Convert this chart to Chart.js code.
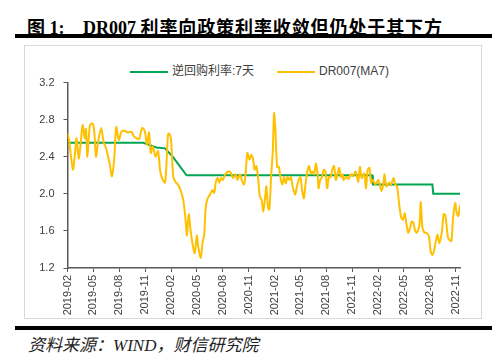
<!DOCTYPE html>
<html lang="zh">
<head>
<meta charset="UTF-8">
<title>DR007 利率向政策利率收敛</title>
<script src="https://cdn.jsdelivr.net/npm/chart.js"></script>
<style>
  body { margin: 0; width: 500px; height: 354px; background: #fff; position: relative; overflow: hidden; }
  .t { position: absolute; top: 13px; line-height: 18px; font: bold 18px "Liberation Serif", "Noto Sans CJK SC", serif; color: #000; white-space: pre; }
  .bar { position: absolute; left: 15px; width: 477px; height: 4px; background: #000; }
  #frame { position: absolute; left: 24px; top: 45px; width: 456px; height: 272px; border: 1px solid #d9d9d9; }
  #wrap { position: absolute; left: 24px; top: 45px; width: 458px; height: 274px; }
  .legLine { position: absolute; top: 71px; width: 38px; height: 2px; }
  .legText { position: absolute; top: 64px; line-height: 15px; font-size: 12px; color: #404040; font-family: "Liberation Sans", "Noto Sans CJK SC", sans-serif; }
  #src { position: absolute; left: 28px; top: 331px; line-height: 17px; font: italic 17px "Liberation Serif", "Noto Sans CJK SC", serif; color: #222; }
</style>
</head>
<body>
  <div class="t" style="left:27px">图 1:</div>
  <div class="t" style="left:83px">DR007 <span style="letter-spacing:0.9px">利率向政策利率收敛但仍处于其下方</span></div>
  <div class="bar" style="top:34px"></div>
  <div id="frame"></div>
  <div class="legLine" style="left:130px;background:#00a651"></div>
  <div class="legText" style="left:172px">逆回购利率:7天</div>
  <div class="legLine" style="left:277px;background:#ffc000"></div>
  <div class="legText" style="left:319px">DR007(MA7)</div>
  <div id="wrap"><canvas id="rateChart" width="458" height="274"></canvas></div>
  <div class="bar" style="top:326px"></div>
  <div id="src">资料来源：WIND，财信研究院</div>

<script>
// x values are months counted from 2019-02
const tickLabels = ['2019-02', '2019-05', '2019-08', '2019-11', '2020-02', '2020-05', '2020-08', '2020-11',
  '2021-02', '2021-05', '2021-08', '2021-11', '2022-02', '2022-05', '2022-08', '2022-11'];
const yTicks = [1.2, 1.6, 2.0, 2.4, 2.8, 3.2];

// 逆回购利率:7天
const repoMonth = [0, 8.8, 10.3, 11.3, 12.2, 13.8, 35.3, 35.4, 42.3, 42.4, 45.5];
const repoRate = [2.55, 2.55, 2.50, 2.49, 2.40, 2.20, 2.20, 2.10, 2.10, 2.00, 2.00];

// DR007(MA7)
const drMonth = [0, 0.2, 0.4, 0.65, 0.85, 1.05, 1.3, 1.5, 1.75, 2.0, 2.15, 2.3, 2.6, 2.9, 3.1, 3.3, 3.55, 3.9,
  4.2, 4.45, 4.7, 4.9, 5.15, 5.4, 5.65, 5.95, 6.25, 6.6, 7.0, 7.4, 7.7, 8.0, 8.3, 8.65, 8.95, 9.2, 9.45, 9.65,
  9.9, 10.2, 10.5, 10.75, 11.05, 11.3, 11.45, 11.65, 11.8, 12.0, 12.25, 12.5, 12.8, 13.1, 13.4, 13.65, 13.85,
  14.05, 14.3, 14.55, 14.75, 15.0, 15.15, 15.45, 15.65, 15.85, 16.0, 16.2, 16.5, 16.8, 17.0, 17.2, 17.4, 17.6,
  17.8, 18.0, 18.3, 18.6, 18.9, 19.2, 19.5, 19.7, 20.0, 20.2, 20.45, 20.6, 20.85, 21.1, 21.3, 21.5, 21.7, 21.9,
  22.1, 22.3, 22.5, 22.7, 22.9, 23.05, 23.25, 23.4, 23.6, 23.8, 23.95, 24.1, 24.3, 24.5, 24.7, 24.9, 25.1, 25.3,
  25.5, 25.7, 25.9, 26.1, 26.4, 26.6, 26.8, 27.0, 27.2, 27.4, 27.6, 27.8, 28.0, 28.2, 28.4, 28.6, 28.8, 29.0,
  29.1, 29.3, 29.5, 29.7, 29.9, 30.1, 30.3, 30.5, 30.7, 30.9, 31.1, 31.3, 31.5, 31.7, 31.9, 32.0, 32.3, 32.6,
  32.8, 33.1, 33.4, 33.7, 33.9, 34.1, 34.4, 34.6, 34.8, 35.0, 35.2, 35.4, 35.7, 36.0, 36.2, 36.4, 36.6, 36.75,
  36.95, 37.3, 37.5, 37.8, 38.0, 38.2, 38.5, 38.7, 38.9, 39.1, 39.3, 39.5, 39.7, 39.9, 40.1, 40.3, 40.5, 40.8,
  40.95, 41.15, 41.4, 41.6, 41.9, 42.1, 42.3, 42.5, 42.7, 42.9, 43.1, 43.4, 43.6, 43.8, 44.1, 44.3, 44.5, 44.7,
  44.95, 45.1, 45.3, 45.5];
const drRate = [2.65, 2.57, 2.40, 2.26, 2.42, 2.60, 2.38, 2.52, 2.74, 2.60, 2.70, 2.40, 2.74, 2.76, 2.68, 2.40, 2.56, 2.71,
  2.55, 2.50, 2.40, 2.32, 2.19, 2.36, 2.72, 2.58, 2.67, 2.68, 2.66, 2.67, 2.62, 2.60, 2.59, 2.71, 2.68, 2.53, 2.66, 2.44,
  2.51, 2.40, 2.46, 2.24, 2.15, 2.12, 2.28, 2.64, 2.65, 2.58, 2.19, 2.13, 2.10, 2.04, 1.94, 1.76, 1.55,
  1.78, 1.58, 1.43, 1.36, 1.55, 1.43, 1.31, 1.47, 1.56, 1.83, 1.94, 1.99, 2.04, 2.01, 2.13, 2.17, 2.12,
  2.17, 2.15, 2.21, 2.24, 2.23, 2.17, 2.21, 2.15, 2.21, 2.15, 2.10, 2.17, 2.44, 2.37, 2.42, 2.38, 2.26, 2.30,
  2.16, 1.97, 1.94, 1.81, 1.95, 2.08, 1.85, 1.83, 2.18, 2.47, 2.87, 2.69, 2.29, 2.29, 2.17, 2.10, 2.18, 2.11,
  2.18, 2.15, 2.18, 2.08, 1.99, 2.08, 2.15, 2.18, 2.04, 1.95, 2.11, 2.24, 2.30, 2.22, 2.24, 2.21, 2.33, 2.21,
  2.06, 2.15, 2.18, 2.26, 2.24, 2.06, 2.18, 2.18, 2.26, 2.30, 2.15, 2.21, 2.28, 2.18, 2.21, 2.15, 2.18, 2.16,
  2.21, 2.19, 2.24, 2.13, 2.29, 2.17, 2.22, 2.06, 2.26, 2.28, 2.12, 2.15, 2.10, 2.15, 2.10, 2.03, 2.10, 2.21,
  2.08, 2.12, 2.10, 2.17, 2.10, 2.08, 1.85, 1.74, 1.72, 1.79, 1.67, 1.58, 1.63, 1.70, 1.69, 1.60, 1.58, 1.67,
  1.91, 1.63, 1.58, 1.58, 1.54, 1.38, 1.34, 1.39, 1.49, 1.56, 1.47, 1.59, 1.78, 1.77, 1.53, 1.50, 1.49, 1.74,
  1.90, 1.80, 1.76, 1.88];

const axisColor = '#595959';
const tickFont = { family: '"Liberation Sans", sans-serif', size: 11 };

new Chart(document.getElementById('rateChart'), {
  type: 'line',
  data: {
    datasets: [
      {
        label: '逆回购利率:7天',
        data: repoMonth.map((m, i) => ({ x: m, y: repoRate[i] })),
        borderColor: '#00a651',
        borderWidth: 2,
        pointRadius: 0,
        tension: 0,
        order: 1
      },
      {
        label: 'DR007(MA7)',
        data: drMonth.map((m, i) => ({ x: m, y: drRate[i] })),
        borderColor: '#ffc000',
        borderWidth: 2,
        pointRadius: 0,
        tension: 0.25,
        order: 0
      }
    ]
  },
  options: {
    responsive: false,
    animation: false,
    devicePixelRatio: 1,
    layout: { padding: { top: 37.5, right: 22, left: 0, bottom: 0 } },
    plugins: { legend: { display: false }, tooltip: { enabled: false } },
    scales: {
      x: {
        type: 'linear',
        min: 0,
        max: 45.5,
        afterBuildTicks: s => { s.ticks = tickLabels.map((t, i) => ({ value: i * 3 })); },
        afterFit: s => { s.height = 51; },
        ticks: {
          callback: (v, i) => tickLabels[i],
          minRotation: 90,
          maxRotation: 90,
          autoSkip: false,
          padding: 3,
          color: '#404040',
          font: tickFont
        },
        grid: { display: true, drawOnChartArea: false, drawTicks: true, tickLength: 4, color: axisColor },
        border: { display: true, color: axisColor, width: 1.5 }
      },
      y: {
        min: 1.2,
        max: 3.2,
        afterBuildTicks: s => { s.ticks = yTicks.map(v => ({ value: v })); },
        afterFit: s => { s.width = 43.5; },
        ticks: {
          callback: v => v.toFixed(1),
          padding: 9,
          color: '#404040',
          font: tickFont
        },
        grid: { display: true, drawOnChartArea: false, drawTicks: true, tickLength: 4, color: axisColor },
        border: { display: true, color: axisColor, width: 1.5 }
      }
    }
  }
});
</script>
</body>
</html>
